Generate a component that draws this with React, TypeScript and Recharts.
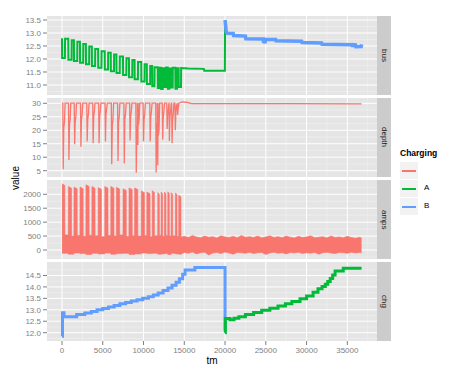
import React from "react";
import { ComposedChart, Line, Area, XAxis, YAxis, CartesianGrid } from "recharts";

const RED = "#F8766D";
const GREEN = "#00BA38";
const BLUE = "#619CFF";
const FONT = "'Liberation Sans', Arial, sans-serif";

// x axis (tm)
const xDomain = [-1840, 38640];
const xMajor = [0, 5000, 10000, 15000, 20000, 25000, 30000, 35000];
const xMinor = [2500, 7500, 12500, 17500, 22500, 27500, 32500, 37500];

// discharge windows
const cycleStart = [0, 770, 1460, 2200, 2930, 3660, 4430, 5240, 5980, 6670, 7480, 8210, 8900, 9720, 10400, 11060, 11740, 12150, 12560, 12970, 13380, 13900, 14310];
const cycleEnd = [360, 1180, 1870, 2600, 3330, 4060, 4840, 5650, 6380, 7080, 7890, 8620, 9310, 10120, 10810, 11340, 11950, 12350, 12760, 13170, 13580, 14110, 14600];

// bus, Charging = A
const busFirst = 12.8;
const busLow = [12.04, 11.97, 11.92, 11.86, 11.8, 11.73, 11.66, 11.6, 11.53, 11.46, 11.38, 11.3, 11.22, 11.13, 11.04, 10.95, 10.88, 10.85, 10.92, 10.86, 10.9, 10.86, 10.92];
const busHigh = [12.78, 12.72, 12.66, 12.58, 12.48, 12.38, 12.3, 12.24, 12.17, 12.1, 12.03, 11.96, 11.88, 11.8, 11.73, 11.68, 11.66, 11.64, 11.67, 11.63, 11.66, 11.64, 11.65];
const busTailTm = [15500, 17400, 17450, 19980, 20000];
const busTailV = [11.63, 11.62, 11.55, 11.55, 13.35];

// bus, Charging = B
const busBTm = [20000, 20150, 20300, 21000, 21050, 22500, 22550, 24700, 24720, 24760, 24900, 24950, 26200, 26250, 29400, 29450, 31850, 31900, 35600, 35650, 35700, 36000, 36050, 36700, 36750];
const busBV = [13.5, 13.05, 12.99, 12.98, 12.9, 12.88, 12.78, 12.77, 12.62, 12.77, 12.6, 12.76, 12.75, 12.7, 12.68, 12.63, 12.62, 12.57, 12.55, 12.46, 12.55, 12.54, 12.47, 12.48, 12.56];

// depth
const depthFull = 30.1;
const depthDipTm = [150, 850, 1550, 2320, 3090, 3820, 4550, 5330, 6100, 6870, 7640, 8350, 9110, 9310, 10000, 10820, 11550, 11750, 12350, 12900, 13170, 13500, 13900, 14180];
const depthDipMin = [5.5, 9.0, 14.8, 13.9, 15.8, 15.2, 15.2, 15.8, 7.4, 8.6, 7.7, 16.2, 4.2, 14.5, 15.8, 15.8, 4.3, 7.0, 16.5, 20.5, 16.0, 15.2, 20.0, 25.7];
const depthDipShoulder = [21, 22, 23, 24, 24, 25, 25, 26, 22, 23, 24, 25, 20, 22, 24, 25, 21, 18, 25, 26, 25, 24, 27, 28];
const depthTailTm = [14500, 14700, 15400, 15900, 20000, 28000, 36750];
const depthTailV = [30.2, 30.5, 30.3, 29.9, 29.9, 29.9, 29.8];

// amps
const ampsBurstTop = [2380, 2280, 2260, 2260, 2340, 2280, 2240, 2280, 2280, 2250, 2200, 2230, 2230, 2120, 2080, 2130, 2060, 2080, 2080, 2090, 2060, 2050, 1970];
const ampsGapHi = [540, 500, 520, 490, 530, 510, 480, 520, 500, 540, 490, 510, 500, 520, 480, 510, 530, 490, 520, 500, 510, 490, 470];
const ampsGapLo = [-120, -150, -110, -130, -160, -120, -140, -110, -150, -130, -120, -160, -140, -110, -130, -120, -150, -140, -130, -160, -120, -140, -150];
const ampsTailTm = [15000, 15500, 16000, 16500, 17000, 17500, 18000, 18500, 19000, 19500, 20000, 20500, 21000, 21500, 22000, 22500, 23000, 23500, 24000, 24500, 25000, 25500, 26000, 26500, 27000, 27500, 28000, 28500, 29000, 29500, 30000, 30500, 31000, 31500, 32000, 32500, 33000, 33500, 34000, 34500, 35000, 35500, 36000, 36500, 36750];
const ampsTailHi = [490, 450, 520, 470, 440, 500, 460, 480, 430, 510, 470, 450, 490, 440, 520, 460, 480, 450, 500, 440, 470, 510, 450, 480, 440, 500, 460, 430, 490, 450, 470, 510, 440, 460, 480, 430, 500, 450, 470, 440, 490, 450, 420, 460, 430];
const ampsTailLo = [-90, -120, -70, -140, -100, -80, -180, -110, -90, -130, -70, -110, -150, -90, -100, -120, -80, -130, -100, -90, -160, -110, -80, -120, -100, -140, -90, -110, -80, -130, -100, -120, -90, -150, -100, -80, -110, -130, -90, -100, -120, -80, -110, -90, -100];

// chg, Charging = B then A
const chgBTm = [0, 60, 250, 1800, 2800, 3600, 4300, 5000, 5700, 6400, 7100, 7800, 8500, 9200, 9900, 10600, 11200, 11800, 12400, 13000, 13500, 14000, 14400, 14800, 15100, 16300, 20000];
const chgBV = [11.84, 12.87, 12.7, 12.8, 12.86, 12.93, 13.0, 13.06, 13.12, 13.19, 13.26, 13.32, 13.38, 13.44, 13.5, 13.57, 13.65, 13.74, 13.84, 13.95, 14.07, 14.2, 14.36, 14.55, 14.74, 14.85, 12.1];
const chgATm = [20000, 20040, 20600, 21100, 21700, 22500, 23500, 24500, 25500, 26500, 27400, 28200, 29200, 30000, 30800, 31400, 31900, 32300, 32600, 32900, 33200, 33500, 34500, 36750];
const chgAV = [12.0, 12.62, 12.57, 12.63, 12.7, 12.79, 12.88, 12.98, 13.07, 13.17, 13.26, 13.36, 13.48, 13.6, 13.77, 13.92, 14.02, 14.12, 14.24, 14.37, 14.52, 14.7, 14.82, 14.82];

const zip = (tm: number[], v: number[]) => tm.map((t, i) => ({ tm: t, v: v[i] }));

function buildBusA() {
  const pts = [{ tm: 0, v: busFirst }];
  cycleStart.forEach((s, i) => {
    if (i > 0) pts.push({ tm: s, v: busHigh[i - 1] });
    pts.push({ tm: s + 15, v: busLow[i] });
    pts.push({ tm: cycleEnd[i], v: busLow[i] });
    pts.push({ tm: cycleEnd[i] + 15, v: busHigh[i] });
  });
  return pts.concat(zip(busTailTm, busTailV));
}

function buildDepth() {
  const pts = [{ tm: 0, v: depthFull }];
  depthDipTm.forEach((t, i) => {
    pts.push({ tm: t - 50, v: depthFull });
    pts.push({ tm: t, v: depthDipMin[i] });
    pts.push({ tm: t + 70, v: depthDipShoulder[i] });
    pts.push({ tm: t + 150, v: depthDipShoulder[i] + 2 });
    pts.push({ tm: t + 230, v: depthFull });
  });
  pts.sort((a, b) => a.tm - b.tm);
  return pts.concat(zip(depthTailTm, depthTailV));
}

function buildAmps() {
  const pts: { tm: number; r: number[] }[] = [];
  cycleStart.forEach((s, i) => {
    if (i > 0) pts.push({ tm: s, r: [ampsGapLo[i - 1], ampsGapHi[i - 1]] });
    pts.push({ tm: s + 10, r: [ampsGapLo[i], ampsBurstTop[i]] });
    pts.push({ tm: cycleEnd[i] - 10, r: [ampsGapLo[i], ampsBurstTop[i] - 60] });
    pts.push({ tm: cycleEnd[i], r: [ampsGapLo[i], ampsGapHi[i]] });
  });
  ampsTailTm.forEach((t, i) => pts.push({ tm: t, r: [ampsTailLo[i], ampsTailHi[i]] }));
  return pts;
}

const busA = buildBusA();
const busB = zip(busBTm, busBV);
const depth = buildDepth();
const amps = buildAmps();
const chgB = zip(chgBTm, chgBV);
const chgA = zip(chgATm, chgAV);

const PANEL_H = 79;
const tickStyle = { fontSize: 8, fill: "#7F7F7F", fontFamily: FONT };

function Panel(props: {
  top: number;
  label: string;
  yDomain: number[];
  yTicks: number[];
  yMinor: number[];
  digits: number;
  showX?: boolean;
  children: React.ReactNode;
}) {
  const { top, label, yDomain, yTicks, yMinor, digits, showX, children } = props;
  return (
    <>
      <div style={{ position: "absolute", left: 0, top }}>
        <ComposedChart
          width={377}
          height={PANEL_H + (showX ? 22 : 0)}
          margin={{ top: 0, right: 0, bottom: 0, left: 7 }}
        >
          <CartesianGrid
            fill="#E5E5E5"
            fillOpacity={1}
            stroke="#F2F2F2"
            strokeWidth={0.6}
            horizontalValues={yMinor}
            verticalValues={xMinor}
          />
          <CartesianGrid stroke="#FFFFFF" strokeWidth={1} horizontalValues={yTicks} verticalValues={xMajor} />
          <XAxis
            type="number"
            dataKey="tm"
            domain={xDomain}
            allowDataOverflow
            ticks={xMajor}
            interval={0}
            hide={!showX}
            height={22}
            tick={tickStyle}
            tickLine={{ stroke: "#7F7F7F" }}
            tickSize={4}
            tickMargin={2}
            axisLine={false}
          />
          <YAxis
            type="number"
            domain={yDomain}
            allowDataOverflow
            ticks={yTicks}
            interval={0}
            width={40}
            tick={tickStyle}
            tickLine={{ stroke: "#7F7F7F" }}
            tickSize={4}
            tickMargin={2}
            axisLine={false}
            tickFormatter={(v: number) => v.toFixed(digits)}
          />
          {children}
        </ComposedChart>
      </div>
      <div
        style={{
          position: "absolute",
          left: 377,
          top,
          width: 14,
          height: PANEL_H,
          background: "#CCCCCC",
          display: "flex",
          alignItems: "center",
          justifyContent: "center",
        }}
      >
        <span style={{ writingMode: "vertical-rl", fontSize: 8, color: "#1A1A1A", fontFamily: FONT }}>{label}</span>
      </div>
    </>
  );
}

function LegendKey({ top, color, text }: { top: number; color: string; text: string }) {
  return (
    <>
      <div style={{ position: "absolute", left: 400, top, width: 18, height: 17, background: "#F2F2F2" }}>
        <div style={{ position: "absolute", left: 2, right: 2, top: 8, height: 1.5, background: color }} />
      </div>
      <div style={{ position: "absolute", left: 424, top: top + 3, fontSize: 8, fontFamily: FONT, color: "#000" }}>{text}</div>
    </>
  );
}

export default function App() {
  return (
    <div style={{ position: "absolute", left: 0, top: 0, width: 460, height: 376, background: "#FFFFFF", fontFamily: FONT }}>
      <Panel top={16} label="bus" yDomain={[10.615, 13.654]} yTicks={[11, 11.5, 12, 12.5, 13, 13.5]} yMinor={[10.75, 11.25, 11.75, 12.25, 12.75, 13.25]} digits={1}>
        <Line data={busA} dataKey="v" type="linear" stroke={GREEN} strokeWidth={2} dot={false} activeDot={false} isAnimationActive={false} />
        <Line data={busB} dataKey="v" type="linear" stroke={BLUE} strokeWidth={3.5} dot={false} activeDot={false} isAnimationActive={false} />
      </Panel>
      <Panel top={98} label="depth" yDomain={[2.66, 31.97]} yTicks={[5, 10, 15, 20, 25, 30]} yMinor={[7.5, 12.5, 17.5, 22.5, 27.5]} digits={0}>
        <Line data={depth} dataKey="v" type="linear" stroke={RED} strokeWidth={1.3} dot={false} activeDot={false} isAnimationActive={false} />
      </Panel>
      <Panel top={180} label="amps" yDomain={[-323, 2513]} yTicks={[0, 500, 1000, 1500, 2000]} yMinor={[-250, 250, 750, 1250, 1750, 2250]} digits={0}>
        <Area data={amps} dataKey="r" type="linear" stroke={RED} strokeWidth={0.6} fill={RED} fillOpacity={1} dot={false} activeDot={false} isAnimationActive={false} />
      </Panel>
      <Panel top={262} label="chg" yDomain={[11.636, 15.09]} yTicks={[12, 12.5, 13, 13.5, 14, 14.5]} yMinor={[11.75, 12.25, 12.75, 13.25, 13.75, 14.25, 14.75]} digits={1} showX>
        <Line data={chgB} dataKey="v" type="stepAfter" stroke={BLUE} strokeWidth={3} dot={false} activeDot={false} isAnimationActive={false} />
        <Line data={chgA} dataKey="v" type="stepAfter" stroke={GREEN} strokeWidth={3} dot={false} activeDot={false} isAnimationActive={false} />
      </Panel>

      <div style={{ position: "absolute", left: 192, width: 40, top: 355, textAlign: "center", fontSize: 10, color: "#000" }}>tm</div>
      <div
        style={{
          position: "absolute",
          left: 15,
          top: 178,
          transform: "translate(-50%, -50%) rotate(-90deg)",
          fontSize: 10,
          color: "#000",
        }}
      >
        value
      </div>

      <div style={{ position: "absolute", left: 400, top: 148, fontSize: 8.5, fontWeight: "bold", color: "#000" }}>Charging</div>
      <LegendKey top={162} color={RED} text="" />
      <LegendKey top={180} color={GREEN} text="A" />
      <LegendKey top={198} color={BLUE} text="B" />
    </div>
  );
}
